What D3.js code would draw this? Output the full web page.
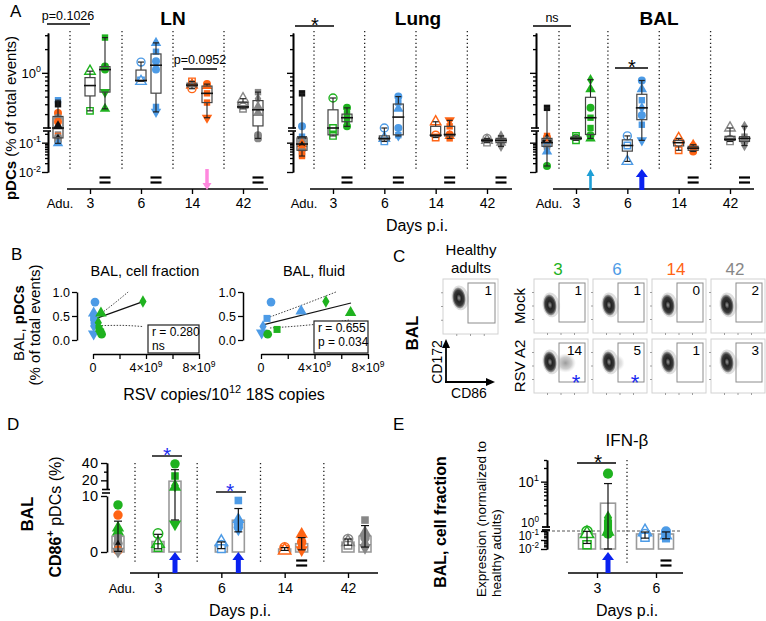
<!DOCTYPE html>
<html><head><meta charset="utf-8">
<script src="https://cdn.jsdelivr.net/npm/d3@7/dist/d3.min.js"></script>
<style>html,body{margin:0;padding:0;background:#fff}svg{display:block}</style>
</head><body><svg id="fig" width="766" height="621"></svg>
<script>
// ================= DATA =================
const days = ["3","6","14","42"];
const dayColor = {"3":"#1fb21f","6":"#4d9be6","14":"#ff6414","42":"#878787"};
const aduPalette = {b:"#4d9be6",k:"#111111",o:"#ff6414",g:"#878787",G:"#1fb21f"};

// Panel A: pDCs (% of total events) -> [value, shape, (colour key for adults)]
const lnAdu = [[0.45,"s","b"],[0.40,"s","k"],[0.31,"c","o"],[0.27,"c","g"],[0.24,"c","o"],[0.21,"t","k"],[0.19,"s","g"],[0.17,"s","o"],[0.15,"c","g"],[0.13,"d","k"],[0.115,"c","g"],[0.095,"t","b"]];
const lnMock = [[[1.05,"t"],[0.33,"s"]],[[1.37,"c"],[0.80,"s"],[0.78,"t"]],[[0.78,"s"],[0.70,"t"],[0.63,"c"]],[[0.47,"t"],[0.37,"c"],[0.35,"s"]]];
const lnInf = [[[2.8,"s"],[1.2,"c"],[1.1,"c"],[0.57,"v"],[0.35,"t"]],[[2.4,"t"],[1.85,"s"],[1.4,"c"],[1.1,"c"],[0.37,"s"],[0.32,"v"]],[[0.72,"c"],[0.68,"t"],[0.55,"s"],[0.42,"s"],[0.27,"v"]],[[0.57,"s"],[0.47,"d"],[0.37,"t"],[0.31,"t"],[0.18,"c"],[0.14,"c"]]];
const lungAdu = [[0.55,"s","k"],[0.21,"c","b"],[0.16,"s","b"],[0.13,"v","k"],[0.11,"c","g"],[0.09,"t","o"],[0.075,"d","k"],[0.06,"c","o"],[0.05,"s","g"],[0.04,"s","o"],[0.035,"s","o"]];
const lungMock = [[[0.48,"c"],[0.20,"s"],[0.17,"s"]],[[0.20,"c"],[0.14,"t"],[0.11,"s"]],[[0.24,"t"],[0.18,"c"],[0.15,"s"]],[[0.14,"c"],[0.12,"t"],[0.10,"s"]]];
const lungInf = [[[0.36,"c"],[0.30,"s"],[0.27,"s"],[0.24,"d"],[0.21,"c"]],[[0.50,"c"],[0.42,"s"],[0.35,"t"],[0.20,"c"],[0.18,"s"],[0.17,"d"]],[[0.25,"v"],[0.21,"s"],[0.19,"c"],[0.17,"t"],[0.14,"s"]],[[0.17,"d"],[0.14,"s"],[0.12,"c"],[0.10,"t"],[0.075,"d"]]];
const balAdu = [[0.36,"s","k"],[0.17,"s","o"],[0.15,"c","o"],[0.13,"t","k"],[0.12,"c","g"],[0.10,"v","k"],[0.09,"d","o"],[0.08,"c","b"],[0.07,"s","g"],[0.05,"t","b"],[0.016,"c","G"]];
const balMock = [[[0.17,"s"],[0.14,"c"],[0.12,"s"]],[[0.17,"c"],[0.08,"s"],[0.023,"t"]],[[0.14,"t"],[0.10,"c"],[0.055,"s"]],[[0.20,"t"],[0.13,"c"],[0.11,"s"]]];
const balInf = [[[0.82,"d"],[0.62,"t"],[0.36,"c"],[0.27,"s"],[0.20,"s"],[0.18,"c"],[0.14,"t"]],[[0.80,"c"],[0.62,"t"],[0.45,"s"],[0.36,"d"],[0.29,"c"],[0.22,"s"],[0.12,"v"]],[[0.085,"t"],[0.075,"c"],[0.065,"s"],[0.055,"s"],[0.05,"c"]],[[0.21,"d"],[0.16,"s"],[0.14,"t"],[0.11,"c"],[0.08,"d"]]];
const lnMarks = ["=","=","pink","="];
const lungMarks = ["=","=","=","="];
const balMarks = ["cyan","blue","=","="];

// Panel B: [RSV copies (x1e9), pDCs %, shape, day]
const bCell = [[0.15,0.79,"c","6"],[0.05,0.56,"t","6"],[0.05,0.47,"s","6"],[0.08,0.40,"s","6"],[0.05,0.29,"d","6"],[0.05,0.13,"v","6"],[0.6,0.56,"t","3"],[3.77,0.80,"d","3"],[0.4,0.36,"d","3"],[0.45,0.24,"s","3"],[0.55,0.18,"c","3"],[0.65,0.12,"c","3"]];
const bCellFit = [[0.15,0.44],[3.77,0.80]];
const bCellUp = [[0.45,0.52],[1.5,0.74],[2.65,1.0]];
const bCellLo = [[0.65,0.30],[2.0,0.305],[3.77,0.28]];
const bFluid = [[0.75,0.79,"c","6"],[3.0,0.60,"t","6"],[0.45,0.45,"s","6"],[0.15,0.28,"d","6"],[0.05,0.15,"v","6"],[4.85,0.80,"d","3"],[6.7,0.57,"t","3"],[1.2,0.22,"s","3"],[0.5,0.12,"c","3"]];
const bFluidFit = [[0.07,0.31],[6.73,0.77]];
const bFluidUp = [[0.67,0.48],[3.0,0.72],[5.6,1.0]];
const bFluidLo = [[0.67,0.25],[4.2,0.33],[6.7,0.42]];
const bCellStats = ["r = 0.280","ns"];
const bFluidStats = ["r = 0.655","p = 0.034"];

// Panel C: % CD86+ in gate
const cHealthy = 1;
const cMock = [1,1,0,2];
const cRsv = [14,5,1,3];
const cStar = [true,true,false,false];

// Panel D: CD86+ pDCs (%)
const dAdu = [[8.4,"c","G"],[6.6,"c","o"],[4.3,"t","G"],[3.6,"t","G"],[2.5,"s","g"],[2.0,"s","g"],[1.5,"c","g"],[1.0,"d","k"],[0.6,"s","g"],[0.3,"c","o"],[0.1,"v","g"]];
const dMock = [[[3.3,"c"],[1.5,"t"],[0.8,"s"]],[[1.8,"t"],[1.2,"c"],[0.6,"s"]],[[0.8,"c"],[0.5,"s"],[0.3,"t"]],[[2.3,"c"],[1.8,"t"],[1.2,"s"]]];
const dInf = [[[39,"c"],[25,"s"],[14,"d"],[12,"t"],[5,"v"]],[[9.2,"s"],[5.8,"t"],[5.0,"c"],[4.4,"c"],[4.0,"d"]],[[3.2,"t"],[1.8,"c"],[1.2,"s"],[0.8,"d"],[0.4,"v"]],[[5.7,"s"],[3.5,"t"],[2.5,"c"],[1.5,"d"],[0.8,"v"]]];
const dMarks = ["blue","blue","=",""];

// Panel E: IFN-beta expression (normalized to healthy adults)
const eDays = ["3","6"];
const eMock = [[[0.9,"c"],[0.5,"t"],[0.03,"s"]],[[0.8,"t"],[0.4,"c"],[0.2,"s"]]];
const eInf = [[[15,"c"],[1.6,"d"],[1.2,"s"],[1.0,"s"],[0.8,"t"],[0.5,"c"]],[[0.9,"c"],[0.5,"c"],[0.3,"t"],[0.15,"s"]]];
const eMarks = ["blue","="];

// ================= HELPERS =================
const FONT = "Arial, 'Liberation Sans', Helvetica, sans-serif";
const svg = d3.select("#fig").attr("font-family", FONT);
svg.append("rect").attr("width",766).attr("height",621).attr("fill","#fff");
const defs = svg.append("defs");
const rg = defs.append("radialGradient").attr("id","extGrad");
rg.append("stop").attr("offset","0%").attr("stop-color","#8a8a8a").attr("stop-opacity",0.9);
rg.append("stop").attr("offset","60%").attr("stop-color","#a8a8a8").attr("stop-opacity",0.6);
rg.append("stop").attr("offset","100%").attr("stop-color","#d0d0d0").attr("stop-opacity",0);
const bg = defs.append("radialGradient").attr("id","blobGrad");
bg.append("stop").attr("offset","0%").attr("stop-color","#9a9a9a");
bg.append("stop").attr("offset","35%").attr("stop-color","#222");
bg.append("stop").attr("offset","70%").attr("stop-color","#3a3a3a");
bg.append("stop").attr("offset","88%").attr("stop-color","#8a8a8a");
bg.append("stop").attr("offset","100%").attr("stop-color","#e0e0e0");

const SYM = {c:d3.symbolCircle, s:d3.symbolSquare, t:d3.symbolTriangle, v:d3.symbolTriangle, d:d3.symbolDiamond};
const SSC = {c:1, s:0.82, t:0.95, v:0.95, d:0.75};
function marker(g,x,y,sh,size,fill,stroke,sw){
  g.append("path").attr("d", d3.symbol(SYM[sh], size*SSC[sh])())
   .attr("transform", `translate(${x},${y})` + (sh==="v" ? " rotate(180)" : ""))
   .attr("fill", fill).attr("stroke", stroke).attr("stroke-width", sw);
}
function line(g,x1,y1,x2,y2,c="#000",w=1,dash=null){
  const l=g.append("line").attr("x1",x1).attr("y1",y1).attr("x2",x2).attr("y2",y2).attr("stroke",c).attr("stroke-width",w);
  if(dash) l.attr("stroke-dasharray",dash); return l;
}
function text(g,x,y,s,size,o={}){
  const t=g.append("text").attr("x",x).attr("y",y).attr("font-size",size)
    .attr("text-anchor",o.anchor||"middle").attr("fill",o.fill||"#000").text(s);
  if(o.bold) t.attr("font-weight","bold");
  if(o.rot) t.attr("transform",`rotate(-90,${x},${y})`);
  return t;
}
function sup(g,x,y,base,exp,size,anchor="end"){
  const t=g.append("text").attr("x",x).attr("y",y).attr("font-size",size).attr("text-anchor",anchor);
  t.append("tspan").text(base);
  t.append("tspan").attr("font-size",size*0.68).attr("dy",-size*0.42).text(exp);
  return t;
}
function eq(g,x,y){ line(g,x-5.5,y-2.5,x+5.5,y-2.5,"#000",2.2); line(g,x-5.5,y+2.5,x+5.5,y+2.5,"#000",2.2); }
function arrow(g,x,yTip,yTail,shaft,head,headL,color){
  const d = yTail>yTip?1:-1, yb=yTip+d*headL, p=d3.path();
  p.moveTo(x,yTip); p.lineTo(x+head/2,yb); p.lineTo(x+shaft/2,yb); p.lineTo(x+shaft/2,yTail);
  p.lineTo(x-shaft/2,yTail); p.lineTo(x-shaft/2,yb); p.lineTo(x-head/2,yb); p.closePath();
  g.append("path").attr("d",p.toString()).attr("fill",color);
}
function mark(g,type,x,cy){
  if(type==="=") eq(g,x,cy);
  else if(type==="blue") arrow(g,x,cy-11,cy+10,5,12,8,"#0a22f0");
  else if(type==="cyan") arrow(g,x,cy-11,cy+10,2.6,8,7,"#1e9fd6");
  else if(type==="pink") arrow(g,x,cy+10,cy-11,3.5,9,7,"#ff88de");
}
function styleAxis(sel,w=1.5){
  sel.attr("font-family",FONT);
  sel.selectAll("path.domain").attr("stroke","#000").attr("stroke-width",w);
  sel.selectAll(".tick line").attr("stroke","#000").attr("stroke-width",w*0.85);
  sel.selectAll("text").attr("fill","#000");
  return sel;
}
function stats(v){ const s=[...v].sort(d3.ascending); return {min:s[0],max:s[s.length-1],q1:d3.quantile(s,.25),med:d3.quantile(s,.5),q3:d3.quantile(s,.75)}; }
function boxGroup(g,x,pts,y,colorOf,open,w,msize){
  const st=stats(pts.map(p=>p[0]));
  pts.forEach(p=>marker(g,x,y(p[0]),p[1],msize,open?"#fff":colorOf(p),colorOf(p),open?1.4:0));
  line(g,x,y(st.max),x,y(st.q3),"#222",1.1);
  line(g,x,y(st.q1),x,y(st.min),"#222",1.1);
  line(g,x-3,y(st.max),x+3,y(st.max),"#222",1.2);
  line(g,x-3,y(st.min),x+3,y(st.min),"#222",1.2);
  g.append("rect").attr("x",x-w/2).attr("y",y(st.q3)).attr("width",w).attr("height",Math.max(0.5,y(st.q1)-y(st.q3)))
    .attr("fill","none").attr("stroke","#444").attr("stroke-width",1.2);
  line(g,x-w/2-1,y(st.med),x+w/2+1,y(st.med),"#111",1.6);
}
function barGroup(g,x,pts,y,base,colorOf,open,w,msize,minV){
  const v=pts.map(p=>p[0]), m=d3.mean(v), sd=d3.deviation(v);
  g.append("rect").attr("x",x-w/2).attr("y",y(m)).attr("width",w).attr("height",y(base)-y(m))
    .attr("fill","#fff").attr("stroke","#9a9a9a").attr("stroke-width",1.6);
  pts.forEach(p=>marker(g,x,y(p[0]),p[1],msize,open?"#fff":colorOf(p),colorOf(p),open?1.5:0));
  const lo=Math.max(m-sd,minV), hi=m+sd;
  line(g,x,y(hi),x,y(lo),"#111",1.2);
  line(g,x-4,y(hi),x+4,y(hi),"#111",1.2);
  line(g,x-4,y(lo),x+4,y(lo),"#111",1.2);
}

// ================= PANEL A =================
const aLower = d3.scaleLog().domain([0.01,0.25]).range([172,131]);
const aUpper = d3.scaleLog().domain([0.2,3.2]).range([128,33]);
const aY = v => v >= 0.2 ? aUpper(v) : aLower(Math.max(v,0.01));
const aPanels = [
  {name:"LN",adu:lnAdu,mock:lnMock,inf:lnInf,marks:lnMarks,ax:48,aduX:58,m3:90,m42:243,off:15,xa:[67,268],title:173,labels:true},
  {name:"Lung",adu:lungAdu,mock:lungMock,inf:lungInf,marks:lungMarks,ax:293,aduX:302,m3:333,m42:487,off:14,xa:[310,512],title:418},
  {name:"BAL",adu:balAdu,mock:balMock,inf:balInf,marks:balMarks,ax:536,aduX:547,m3:576,m42:730,off:14.5,xa:[553,754],title:659}
];
aPanels.forEach(p=>{
  const g=svg.append("g");
  const xs=d3.scalePoint().domain(days).range([p.m3,p.m42]);
  const seps=[p.aduX+12, ...days.slice(0,3).map((d,i)=>(xs(d)+p.off+xs(days[i+1]))/2-1)];
  seps.forEach(sx=>line(g,sx,31,sx,170,"#222",1.3,"1.3,2.6"));
  styleAxis(g.append("g").attr("transform",`translate(${p.ax},0)`).call(d3.axisLeft(aUpper).tickValues([0.3,0.4,0.5,0.6,0.7,0.8,0.9,2,3]).tickSize(3).tickSizeOuter(0).tickFormat("")),1.6);
  styleAxis(g.append("g").attr("transform",`translate(${p.ax},0)`).call(d3.axisLeft(aUpper).tickValues([1]).tickSize(6).tickSizeOuter(0).tickFormat("")),1.6);
  styleAxis(g.append("g").attr("transform",`translate(${p.ax},0)`).call(d3.axisLeft(aLower).tickValues([0.02,0.03,0.04,0.05,0.06,0.07,0.08,0.09,0.2]).tickSize(3).tickSizeOuter(0).tickFormat("")),1.6);
  styleAxis(g.append("g").attr("transform",`translate(${p.ax},0)`).call(d3.axisLeft(aLower).tickValues([0.01,0.1]).tickSize(6).tickSizeOuter(0).tickFormat("")),1.6);
  line(g,p.ax-5,128,p.ax+3,128,"#000",1.6); line(g,p.ax-5,131,p.ax+3,131,"#000",1.6);
  if(p.labels){
    sup(g,p.ax-7,aUpper(1)+5,"10","0",13);
    sup(g,p.ax-7,aLower(0.1)+5,"10","-1",13);
    sup(g,p.ax-7,aLower(0.01)+5,"10","-2",13);
  }
  line(g,p.xa[0],189,p.xa[1],189,"#000",1.6);
  const xa=g.append("g").attr("transform","translate(0,189)").call(d3.axisBottom(xs).tickSize(5).tickPadding(4).tickSizeOuter(0));
  xa.select(".domain").remove(); styleAxis(xa,1.6); xa.selectAll("text").attr("font-size",14);
  text(g,p.aduX+2,208,"Adu.",13);
  boxGroup(g,p.aduX,p.adu,aY,d=>aduPalette[d[2]],false,10,50);
  days.forEach((d,i)=>{
    boxGroup(g,xs(d),p.mock[i],aY,()=>dayColor[d],true,10,50);
    boxGroup(g,xs(d)+p.off,p.inf[i],aY,()=>dayColor[d],false,10,50);
    mark(g,p.marks[i],xs(d)+p.off,180);
  });
  text(g,p.title,25,p.name,19,{bold:true});
});
{
  const g=svg.append("g");
  line(g,47,24,90,24,"#000",1.3); text(g,68,20,"p=0.1026",12.5);
  line(g,183,69,217,69,"#000",1.3); text(g,200,64,"p=0.0952",12.5);
  line(g,295,26,334,26,"#000",1.3); text(g,315,32,"*",20);
  line(g,533,26,571,26,"#000",1.3); text(g,552,22,"ns",12.5);
  line(g,615,68,648,68,"#000",1.3); text(g,632,74,"*",20);
  const yl=g.append("text").attr("transform","translate(16,118) rotate(-90)").attr("text-anchor","middle").attr("font-size",15);
  yl.append("tspan").attr("font-weight","bold").text("pDCs");
  yl.append("tspan").text(" (% of total events)");
  text(g,417,231,"Days p.i.",16);
  text(g,10,17,"A",17,{anchor:"start"});
}

// ================= PANEL B =================
function scatter(o){
  const g=svg.append("g");
  const xs=d3.scaleLinear().domain([0,8]).range([o.x0,o.x1]);
  const ys=d3.scaleLinear().domain([0,1]).range([340,292]);
  const ya=g.append("g").attr("transform",`translate(${o.yx},0)`).call(d3.axisLeft(ys).tickValues([0,0.5,1]).tickFormat(d3.format(".1f")).tickSize(5).tickPadding(2).tickSizeOuter(0));
  styleAxis(ya,1.5); ya.selectAll("text").attr("font-size",12.5);
  const xa=g.append("g").attr("transform","translate(0,354)").call(d3.axisBottom(xs).tickValues([0,2,4,6,8]).tickFormat("").tickSize(5).tickSizeOuter(0));
  styleAxis(xa,1.5);
  text(g,xs(0),372,"0",12.5);
  sup(g,xs(4),372,"4×10","9",12.5,"middle");
  sup(g,xs(8),372,"8×10","9",12.5,"middle");
  const lg=d3.line().x(d=>xs(d[0])).y(d=>ys(d[1])).curve(d3.curveMonotoneX);
  g.append("path").attr("d",lg(o.up)).attr("fill","none").attr("stroke","#444").attr("stroke-width",1).attr("stroke-dasharray","1.5,1.5");
  g.append("path").attr("d",lg(o.lo)).attr("fill","none").attr("stroke","#444").attr("stroke-width",1).attr("stroke-dasharray","1.5,1.5");
  g.append("path").attr("d",lg(o.fit)).attr("fill","none").attr("stroke","#111").attr("stroke-width",1.2);
  o.pts.forEach(p=>marker(g,xs(p[0]),ys(p[1]),p[2],60,dayColor[p[3]],dayColor[p[3]],0));
  g.append("rect").attr("x",o.box[0]).attr("y",o.box[1]).attr("width",xs(8)-o.box[0]).attr("height",353-o.box[1])
    .attr("fill","#fff").attr("stroke","#222").attr("stroke-width",1.2);
  text(g,o.box[0]+4,o.box[1]+11,o.stats[0],12,{anchor:"start"});
  text(g,o.box[0]+4,o.box[1]+25,o.stats[1],12,{anchor:"start"});
  text(g,o.title[0],276,o.title[1],14.5);
}
scatter({pts:bCell,fit:bCellFit,up:bCellUp,lo:bCellLo,yx:77,x0:93,x1:199,box:[148,325],stats:bCellStats,title:[145,"BAL, cell fraction"]});
scatter({pts:bFluid,fit:bFluidFit,up:bFluidUp,lo:bFluidLo,yx:243,x0:261,x1:368,box:[314,321],stats:bFluidStats,title:[314,"BAL, fluid"]});
{
  const g=svg.append("g");
  text(g,11,260,"B",17,{anchor:"start"});
  const t=g.append("text").attr("x",224).attr("y",400).attr("text-anchor","middle").attr("font-size",16);
  t.append("tspan").text("RSV copies/10");
  t.append("tspan").attr("font-size",11).attr("dy",-7).text("12");
  t.append("tspan").attr("dy",7).text(" 18S copies");
  const l1=g.append("text").attr("transform","translate(24,323) rotate(-90)").attr("text-anchor","middle").attr("font-size",15);
  l1.append("tspan").text("BAL, "); l1.append("tspan").attr("font-weight","bold").text("pDCs");
  text(g,40,325,"(% of total events)",15,{rot:true});
}

// ================= PANEL C =================
function flowPlot(g,x0,y0,w,h,pct,star,cyOff){
  g.append("rect").attr("x",x0).attr("y",y0).attr("width",w).attr("height",h).attr("fill","#fff").attr("stroke","#d2d2d2").attr("stroke-width",1);
  [0.25,0.5,0.75].forEach(f=>{ line(g,x0-2,y0+h*f,x0,y0+h*f,"#888",0.8); line(g,x0+w*f,y0+h,x0+w*f,y0+h+2,"#888",0.8); });
  const cx=x0+16, cy=y0+cyOff;
  g.append("ellipse").attr("cx",cx+5+pct*0.75).attr("cy",cy+1).attr("rx",5+pct*0.4).attr("ry",7+pct*0.2)
     .attr("fill","url(#extGrad)").attr("opacity",Math.min(0.95,0.15+pct/14));
  g.append("ellipse").attr("cx",cx+1).attr("cy",cy).attr("rx",8.5).attr("ry",12.5).attr("fill","#dedede")
     .attr("transform",`rotate(-8,${cx},${cy})`);
  g.append("ellipse").attr("cx",cx).attr("cy",cy).attr("rx",6.8).attr("ry",11).attr("fill","url(#blobGrad)")
     .attr("transform",`rotate(-8,${cx},${cy})`);
  g.append("rect").attr("x",x0+25).attr("y",y0+4).attr("width",w-28).attr("height",h-15).attr("fill","none").attr("stroke","#8c8c8c").attr("stroke-width",1);
  text(g,x0+w-6,y0+16,String(pct),13.5,{anchor:"end"});
  if(star) text(g,x0+w-12,y0+h-3,"*",22,{fill:"#1a2cf0"});
}
{
  const g=svg.append("g");
  text(g,393,262,"C",17,{anchor:"start"});
  text(g,471,255,"Healthy",15); text(g,471,273,"adults",15);
  flowPlot(g,443,279,55,55,cHealthy,false,19);
  const cols=d3.scalePoint().domain(days).range([534,711]);
  days.forEach((d,i)=>{
    text(g,cols(d)+24,275,d,17,{fill:dayColor[d]});
    flowPlot(g,cols(d),279,54,54,cMock[i],false,26);
    flowPlot(g,cols(d),339,54,54,cRsv[i],cStar[i],23);
  });
  text(g,525,306,"Mock",15,{rot:true});
  text(g,525,366,"RSV A2",15,{rot:true});
  text(g,418,333,"BAL",17,{rot:true,bold:true});
  line(g,446,382,446,346,"#000",1.8); line(g,445,382,488,382,"#000",1.8);
  g.append("path").attr("d","M446,339 L442,348 L450,348 Z").attr("fill","#000");
  g.append("path").attr("d","M495,382 L486,378 L486,386 Z").attr("fill","#000");
  text(g,442,362,"CD172",14,{rot:true});
  text(g,469,398,"CD86",14);
}

// ================= PANEL D =================
{
  const g=svg.append("g");
  const dLo=d3.scaleLinear().domain([0,10]).range([552,496]);
  const dHi=d3.scaleLinear().domain([10,40]).range([489,463]);
  const dY=v=>v>10?dHi(v):dLo(Math.max(v,0));
  const xs=d3.scalePoint().domain(days).range([158,348]);
  const off=17, aduX=118, ax=107;
  [aduX+17, ...days.slice(0,3).map((d,i)=>(xs(d)+off+xs(days[i+1]))/2-1)].forEach(sx=>line(g,sx,463,sx,563,"#222",1.3,"1.3,2.6"));
  const la=g.append("g").attr("transform",`translate(${ax},0)`).call(d3.axisLeft(dLo).tickValues([0,10]).tickSize(6).tickPadding(3).tickSizeOuter(0));
  styleAxis(la,1.6); la.selectAll("text").attr("font-size",14.5);
  const ua=g.append("g").attr("transform",`translate(${ax},0)`).call(d3.axisLeft(dHi).tickValues([20,40]).tickSize(6).tickPadding(3).tickSizeOuter(0));
  styleAxis(ua,1.6); ua.selectAll("text").attr("font-size",14.5);
  styleAxis(g.append("g").attr("transform",`translate(${ax},0)`).call(d3.axisLeft(dHi).tickValues([30]).tickSize(3).tickSizeOuter(0).tickFormat("")),1.6);
  line(g,ax-5,489.5,ax+3,489.5,"#000",1.6); line(g,ax-5,493,ax+3,493,"#000",1.6);
  line(g,130,573,378,573,"#000",1.6);
  const xa=g.append("g").attr("transform","translate(0,573)").call(d3.axisBottom(xs).tickSize(5).tickPadding(5).tickSizeOuter(0));
  xa.select(".domain").remove(); styleAxis(xa,1.6); xa.selectAll("text").attr("font-size",14);
  text(g,122,593,"Adu.",13);
  barGroup(g,aduX,dAdu,dY,0,p=>aduPalette[p[2]],false,12,70,0);
  days.forEach((d,i)=>{
    barGroup(g,xs(d),dMock[i],dY,0,()=>dayColor[d],true,12,70,0);
    barGroup(g,xs(d)+off,dInf[i],dY,0,()=>dayColor[d],false,12,70,0);
    mark(g,dMarks[i],xs(d)+off,563);
  });
  line(g,152,456,182,456,"#000",1.4); text(g,167,462,"*",21,{fill:"#1a2cf0"});
  line(g,216,492,246,492,"#000",1.4); text(g,230,498,"*",21,{fill:"#1a2cf0"});
  text(g,240,616,"Days p.i.",16);
  text(g,7,430,"D",17,{anchor:"start"});
  text(g,33,514,"BAL",17,{rot:true,bold:true});
  const yl=g.append("text").attr("transform","translate(61,517) rotate(-90)").attr("text-anchor","middle").attr("font-size",16);
  yl.append("tspan").attr("font-weight","bold").text("CD86");
  yl.append("tspan").attr("font-weight","bold").attr("font-size",11).attr("dy",-7).text("+");
  yl.append("tspan").attr("dy",7).text(" pDCs (%)");
}

// ================= PANEL E =================
{
  const g=svg.append("g");
  const eLo=d3.scaleLog().domain([0.01,1]).range([549,531]);
  const eHi=d3.scaleLog().domain([1,30]).range([527,460]);
  const eY=v=>v>1?eHi(v):eLo(Math.max(v,0.01));
  const xs=d3.scalePoint().domain(eDays).range([587,645]);
  const xt=d3.scalePoint().domain(eDays).range([597,656]);
  const off=21, ax=547;
  line(g,627,460,627,563,"#222",1.3,"1.3,2.6");
  line(g,ax,eLo(1),680,eLo(1),"#555",1,"3,2");
  styleAxis(g.append("g").attr("transform",`translate(${ax},0)`).call(d3.axisLeft(eHi).tickValues([2,3,4,5,6,7,8,9,20,30]).tickSize(3).tickSizeOuter(0).tickFormat("")),1.6);
  styleAxis(g.append("g").attr("transform",`translate(${ax},0)`).call(d3.axisLeft(eHi).tickValues([10]).tickSize(6).tickSizeOuter(0).tickFormat("")),1.6);
  styleAxis(g.append("g").attr("transform",`translate(${ax},0)`).call(d3.axisLeft(eLo).tickValues([0.02,0.03,0.05,0.07,0.2,0.3,0.5,0.7]).tickSize(3).tickSizeOuter(0).tickFormat("")),1.6);
  styleAxis(g.append("g").attr("transform",`translate(${ax},0)`).call(d3.axisLeft(eLo).tickValues([0.01,0.1,1]).tickSize(6).tickSizeOuter(0).tickFormat("")),1.6);
  line(g,ax-5,527,ax+3,527,"#000",1.8); line(g,ax-5,530,ax+3,530,"#000",1.8);
  sup(g,ax-8,eHi(10)+5,"10","1",14);
  sup(g,ax-8,527,"10","0",12);
  sup(g,ax-8,540,"10","-1",12);
  sup(g,ax-8,553,"10","-2",12);
  line(g,568,573,683,573,"#000",1.6);
  const xa=g.append("g").attr("transform","translate(0,573)").call(d3.axisBottom(xt).tickSize(5).tickPadding(5).tickSizeOuter(0));
  xa.select(".domain").remove(); styleAxis(xa,1.6); xa.selectAll("text").attr("font-size",14);
  eDays.forEach((d,i)=>{
    barGroup(g,xs(d),eMock[i],eY,0.01,()=>dayColor[d],true,17,80,0.01);
    barGroup(g,xs(d)+off,eInf[i],eY,0.01,()=>dayColor[d],false,15,80,0.01);
    mark(g,eMarks[i],xs(d)+off,563);
  });
  line(g,577,463,616,463,"#000",1.4); text(g,598,469,"*",21);
  text(g,627,446,"IFN-β",17);
  text(g,627,616,"Days p.i.",16);
  text(g,393,430,"E",17,{anchor:"start"});
  text(g,446,522,"BAL, cell fraction",16,{rot:true,bold:true});
  text(g,486,597,"Expression (normalized to",13.5,{rot:true,anchor:"start"});
  text(g,501,597,"healthy adults)",13.5,{rot:true,anchor:"start"});
}
</script></body></html>
